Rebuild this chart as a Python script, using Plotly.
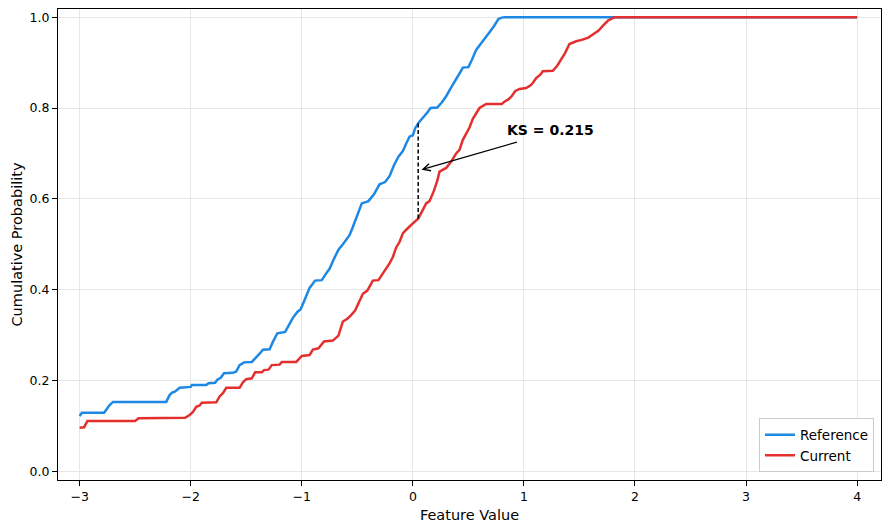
import plotly.graph_objects as go

# ECDF points
ref_x = [-3.00, -2.98, -2.78, -2.75, -2.73, -2.70, -2.22, -2.19, -2.17, -2.14, -2.10, -2.00, -1.99,
         -1.86, -1.84, -1.78, -1.76, -1.73, -1.70, -1.62, -1.59, -1.56, -1.52, -1.45, -1.41, -1.38,
         -1.35, -1.29, -1.26, -1.22, -1.15, -1.12, -1.08, -1.04, -1.01, -0.97, -0.93, -0.88, -0.82,
         -0.78, -0.75, -0.71, -0.67, -0.64, -0.60, -0.57, -0.54, -0.50, -0.46, -0.40, -0.35, -0.30,
         -0.25, -0.21, -0.17, -0.13, -0.09, -0.06, -0.03, 0.00, 0.02, 0.05, 0.09, 0.13, 0.16, 0.22,
         0.26, 0.30, 0.34, 0.38, 0.42, 0.45, 0.50, 0.53, 0.57, 0.61, 0.65, 0.69, 0.73, 0.77, 0.80,
         0.83, 4.00]
ref_y = [0.122, 0.129, 0.129, 0.140, 0.146, 0.153, 0.153, 0.168, 0.173, 0.176, 0.184, 0.186, 0.190,
         0.190, 0.194, 0.195, 0.202, 0.206, 0.216, 0.217, 0.220, 0.234, 0.240, 0.241, 0.250, 0.259,
         0.268, 0.269, 0.285, 0.304, 0.307, 0.320, 0.338, 0.351, 0.357, 0.380, 0.404, 0.420, 0.421,
         0.436, 0.446, 0.468, 0.488, 0.497, 0.509, 0.520, 0.538, 0.565, 0.590, 0.595, 0.610, 0.632,
         0.637, 0.650, 0.674, 0.693, 0.705, 0.722, 0.737, 0.740, 0.755, 0.767, 0.778, 0.790, 0.800, 0.801,
         0.812, 0.826, 0.843, 0.858, 0.876, 0.889, 0.890, 0.905, 0.928, 0.941, 0.955, 0.967, 0.980, 0.996, 0.999,
         1.000, 1.000]

cur_x = [-3.00, -2.96, -2.93, -2.50, -2.47, -2.05, -2.01, -1.98, -1.95, -1.92, -1.90, -1.77, -1.74,
         -1.71, -1.68, -1.56, -1.53, -1.50, -1.45, -1.42, -1.36, -1.34, -1.30, -1.27, -1.20, -1.18,
         -1.05, -1.02, -1.00, -0.93, -0.90, -0.85, -0.80, -0.72, -0.67, -0.63, -0.59, -0.56, -0.52,
         -0.48, -0.45, -0.41, -0.36, -0.31, -0.25, -0.21, -0.18, -0.15, -0.12, -0.09, -0.06, -0.02,
         0.00, 0.05, 0.08, 0.12, 0.15, 0.19, 0.22, 0.24, 0.30, 0.35, 0.39, 0.42, 0.45, 0.48, 0.51,
         0.54, 0.57, 0.60, 0.66, 0.80, 0.83, 0.86, 0.89, 0.92, 0.96, 1.02, 1.06, 1.08, 1.11, 1.15,
         1.17, 1.26, 1.30, 1.33, 1.37, 1.41, 1.47, 1.52, 1.58, 1.62, 1.67, 1.71, 1.76, 1.82, 4.00]
cur_y = [0.096, 0.097, 0.111, 0.111, 0.117, 0.118, 0.124, 0.131, 0.142, 0.145, 0.151, 0.152, 0.165,
         0.172, 0.184, 0.184, 0.196, 0.203, 0.205, 0.218, 0.218, 0.223, 0.224, 0.234, 0.235, 0.241,
         0.241, 0.250, 0.254, 0.256, 0.268, 0.271, 0.286, 0.288, 0.299, 0.330, 0.336, 0.343, 0.354,
         0.375, 0.391, 0.398, 0.420, 0.421, 0.442, 0.458, 0.472, 0.493, 0.505, 0.524, 0.532, 0.540,
         0.546, 0.557, 0.570, 0.590, 0.595, 0.618, 0.640, 0.660, 0.668, 0.684, 0.700, 0.708, 0.730, 0.745, 0.757,
         0.776, 0.788, 0.800, 0.809, 0.809, 0.815, 0.819, 0.826, 0.837, 0.842, 0.844, 0.850, 0.855, 0.866, 0.874,
         0.881, 0.882, 0.893, 0.905, 0.921, 0.941, 0.947, 0.950, 0.955, 0.962, 0.970, 0.981, 0.993, 1.000, 1.000]

ks_x = 0.048
ks_lo, ks_hi = 0.557, 0.767
ks_text = "KS = 0.215"

FONT = "DejaVu Sans"

fig = go.Figure()

fig.add_trace(go.Scatter(x=ref_x, y=ref_y, mode="lines", name="Reference",
                         line=dict(color="#1E88E5", width=2.5)))
fig.add_trace(go.Scatter(x=cur_x, y=cur_y, mode="lines", name="Current",
                         line=dict(color="#E3302F", width=2.5)))

# KS distance marker
fig.add_trace(go.Scatter(x=[ks_x, ks_x], y=[ks_lo, ks_hi], mode="lines",
                         line=dict(color="black", width=1.5, dash="4px,2.5px"),
                         showlegend=False, hoverinfo="skip"))

fig.add_annotation(x=ks_x + 0.03, y=0.664, ax=0.95, ay=0.726, xref="x", yref="y",
                   axref="x", ayref="y", text="", showarrow=True,
                   arrowhead=5, arrowsize=1.1, arrowwidth=1.3, arrowcolor="black", standoff=0)
fig.add_annotation(x=1.24, y=0.752, xref="x", yref="y", text="<b>" + ks_text + "</b>",
                   showarrow=False, font=dict(family=FONT, size=14, color="black"))

axis_common = dict(showgrid=True, gridcolor="#e6e6e6", gridwidth=1, zeroline=False,
                   showline=True, linecolor="black", linewidth=1, mirror=True,
                   ticks="outside", ticklen=5, tickcolor="black", automargin=False,
                   tickfont=dict(family=FONT, size=12.5, color="black"))

# the page body adds an 8px offset, so the figure is a bit smaller than the window
fig.update_layout(
    width=882, height=522,
    margin=dict(l=50, r=9, t=1, b=50),
    plot_bgcolor="white", paper_bgcolor="white",
    font=dict(family=FONT, color="black"),
    xaxis=dict(range=[-3.195, 4.215], tickvals=[-3, -2, -1, 0, 1, 2, 3, 4],
               title=dict(text="Feature Value", font=dict(family=FONT, size=14.5), standoff=6),
               **axis_common),
    yaxis=dict(range=[-0.019, 1.018], tickvals=[0, 0.2, 0.4, 0.6, 0.8, 1.0], tickformat=".1f",
               title=dict(text="Cumulative Probability", font=dict(family=FONT, size=14.5), standoff=3),
               **axis_common),
    legend=dict(x=0.9915, y=0.016, xanchor="right", yanchor="bottom",
                bgcolor="white", bordercolor="#cccccc", borderwidth=1,
                font=dict(family=FONT, size=13.5)),
)

fig.write_html("out.html")
